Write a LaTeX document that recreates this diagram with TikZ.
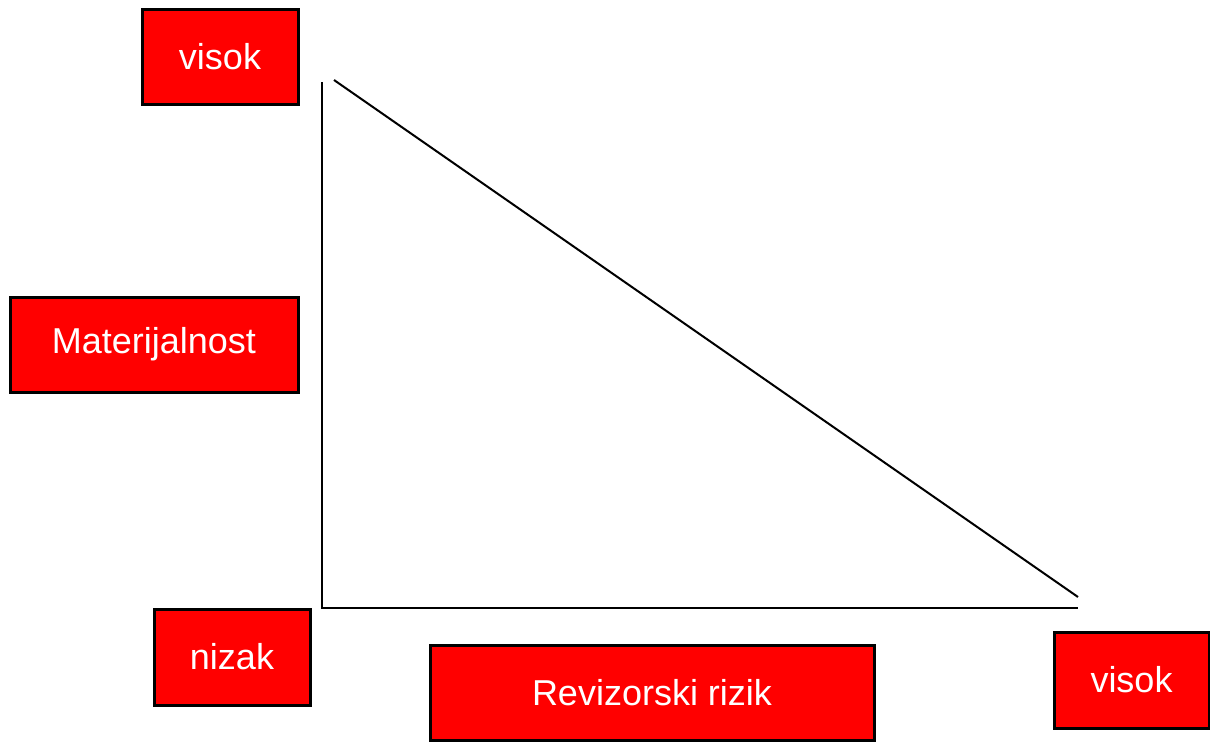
\documentclass[tikz,border=0pt]{standalone}
\usepackage{fontspec}
\setmainfont{Liberation Sans}
\begin{document}
\begin{tikzpicture}[x=1pt,y=-1pt,
  redbox/.style={draw=black,line width=3pt,fill=red,text=white,inner sep=0pt,
    font=\fontsize{36}{42}\selectfont},
  axis/.style={line width=2pt}]
\useasboundingbox (0,0) rectangle (1210,745);
\node[redbox,minimum width=156,minimum height=95] (vh) at (220,56.5) {visok};
\node[redbox,minimum width=288,minimum height=95] (mat) at (154,344.5) {Materijalnost};
\node[redbox,minimum width=156,minimum height=96] (niz) at (232,657) {nizak};
\node[redbox,minimum width=444,minimum height=95] (rev) at (652,692.5) {Revizorski rizik};
\node[redbox,minimum width=155,minimum height=96] (vr) at (1131.5,680) {visok};
\coordinate (top) at (322,82);
\coordinate (orig) at (322,608);
\coordinate (xend) at (1078,608);
\coordinate (d1) at (334,80);
\coordinate (d2) at (1078,597);
\draw[axis] (top) -- (orig) -- (xend);
\draw[axis] (d1) -- (d2);
\end{tikzpicture}
\end{document}
